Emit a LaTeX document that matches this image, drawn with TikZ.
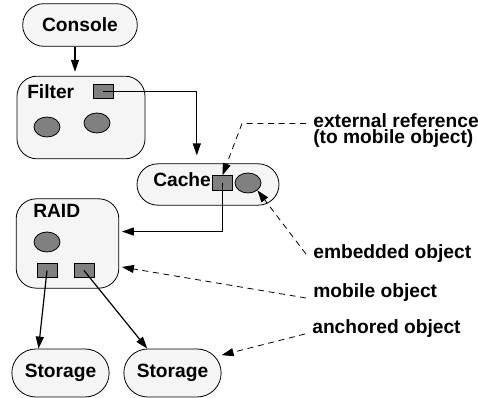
\documentclass[tikz,border=0pt]{standalone}
\usepackage{fontspec}
\setmainfont{Liberation Sans}
\usetikzlibrary{shapes.geometric,arrows.meta}

\begin{document}
\begin{tikzpicture}[x=0.75pt,y=-0.75pt,
	every node/.style={font=\fontsize{14.4}{12}\selectfont\bfseries},
	pill/.style={draw,
		rectangle,
		rounded corners=#1,
		minimum height=2*#1,
		fill=gray!8,
		line width=0.6pt},
	pill/.default=16pt,
	roundbox/.style={draw,
		rectangle,
		rounded corners=15pt,
		fill=gray!8,
		line width=0.6pt},
	mobileobj/.style={draw,
		rectangle,
		fill=gray,
		minimum width=15pt,
		minimum height=11pt,
		inner sep=0pt,
		line width=0.6pt},
	embeddedobj/.style={draw,
		ellipse,
		fill=gray,
		minimum width=19.5pt,
		minimum height=15pt,
		inner sep=0pt,
		line width=0.6pt},
	title/.style={anchor=base west, inner sep=0pt},
	remark/.style={anchor=base west, inner sep=0pt, outer xsep=5.5pt, outer ysep=0pt},
	link/.style={-{Triangle[length=9pt,width=6pt]}, line width=0.9pt},
	hint/.style={-{Triangle[length=9pt,width=6pt]}, line width=0.6pt, dash pattern=on 4.5pt off 3.5pt}]

	\useasboundingbox (0,0) rectangle (478,398);

	%Console and Filter
	\node[pill=16pt, minimum width=86pt] (Console) at (80,25) {Console};

	\node[roundbox,
	minimum width=96pt,
	minimum height=62pt] (Filter) at (81,117.5) {};
	\node[title] (FilterTitle) at (27,99) {Filter};
	\node[mobileobj] (FilterRef) at (103,91.5) {};
	\node[embeddedobj] (FilterObjA) at (47,127) {};
	\node[embeddedobj] (FilterObjB) at (97,123) {};

	%Cache
	\node[pill=15.5pt, minimum width=106.5pt] (Cache) at (208,184.5) {};
	\node[title] (CacheTitle) at (153,187) {Cache};
	\node[mobileobj] (CacheRef) at (222.5,183) {};
	\node[embeddedobj] (CacheObj) at (248,183) {};

	%RAID
	\node[roundbox,
	minimum width=77pt,
	minimum height=67pt] (RAID) at (67.5,243.5) {};
	\node[title] (RAIDTitle) at (33,218) {RAID};
	\node[embeddedobj] (RAIDObj) at (47,242) {};
	\node[mobileobj] (RAIDRefA) at (47,270.5) {};
	\node[mobileobj] (RAIDRefB) at (84,270.5) {};

	%Storage
	\node[pill=18pt, minimum width=73pt] (StorageA) at (60.5,373) {Storage};
	\node[pill=18pt, minimum width=73pt] (StorageB) at (172.5,373) {Storage};

	%remarks
	\node[remark, align=left] (ExtRef) at (306,144) {external reference\\(to mobile object)};
	\node[remark] (Embedded) at (306,259) {embedded object};
	\node[remark] (Mobile) at (306,298) {mobile object};
	\node[remark] (Anchored) at (305,334) {anchored object};

	%references
	\draw[link, shorten >=3pt] (Console.-103) -- (Console.-103 |- Filter.north);
	\draw[link, shorten >=6pt] (FilterRef.center) -| (Cache.118);
	\draw[link, shorten >=2pt] (CacheRef.center) |- (RAID.13);
	\draw[link] (RAIDRefA.center) -- (StorageA.132);
	\draw[link] (RAIDRefB.center) -- (StorageB.136);

	%annotations
	\draw[hint] ([yshift=-7pt]ExtRef.north west) -- ++(-64,0) -- (CacheRef.north);
	\draw[hint] (Embedded.west) -- (CacheObj.south east);
	\draw[hint, shorten >=2pt] (Mobile.base west) -- (RAID.-24);
	\draw[hint] (Anchored.base west) -- (StorageB.20);
\end{tikzpicture}
\end{document}
